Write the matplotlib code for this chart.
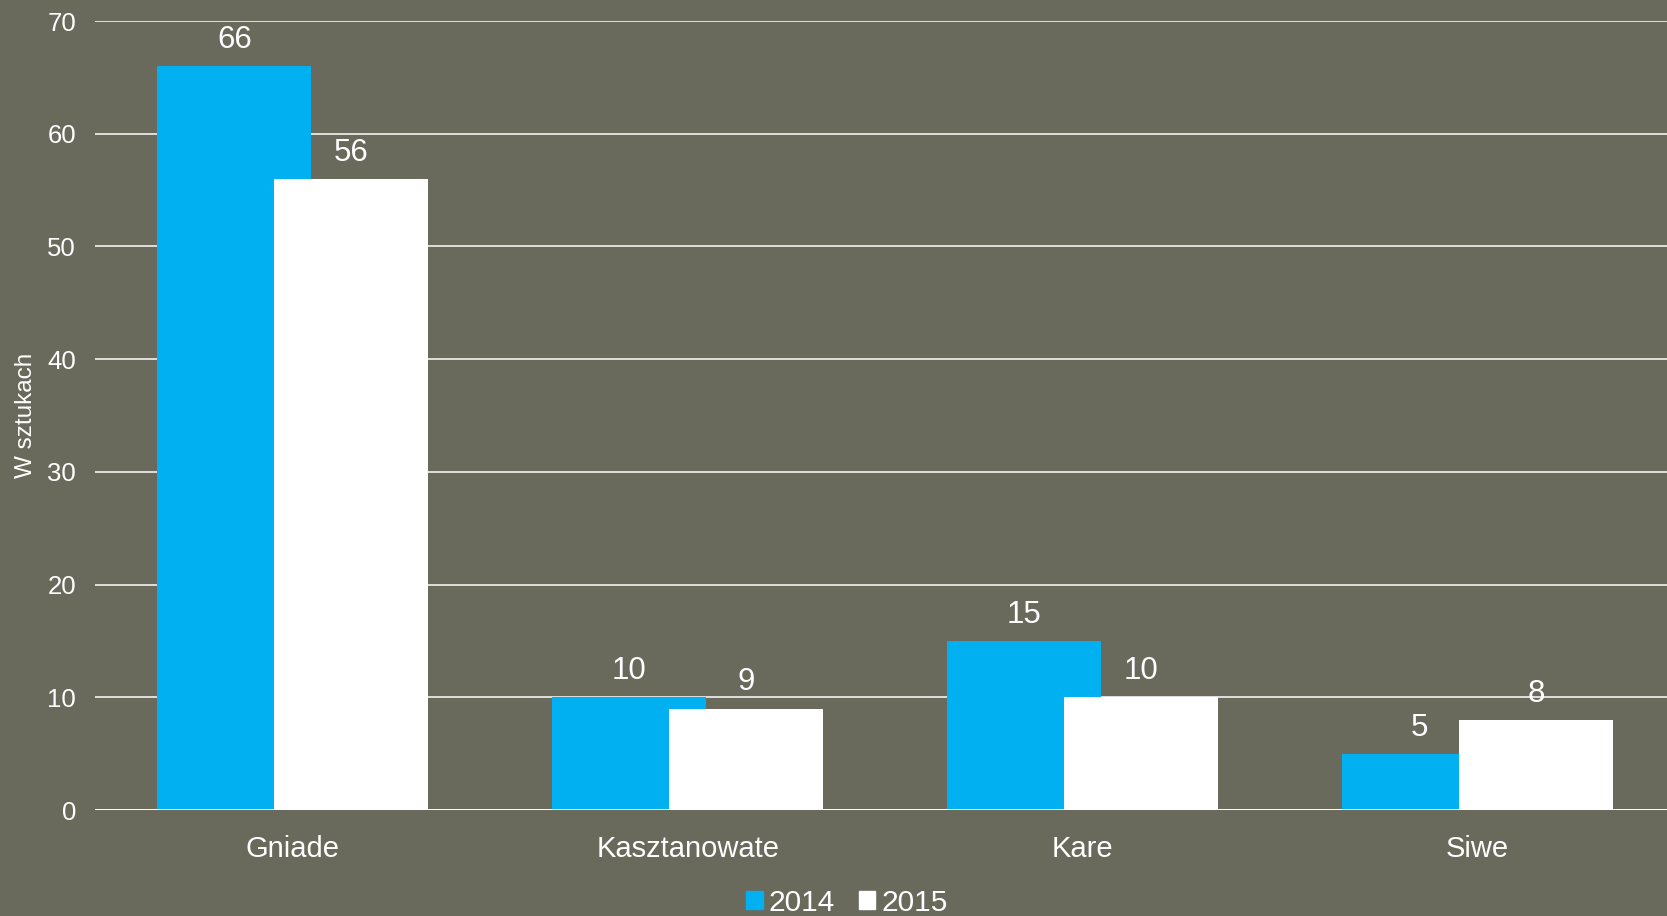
import matplotlib
matplotlib.use('Agg')
import matplotlib.pyplot as plt
from matplotlib.patches import Patch
import numpy as np

# data
categories = ['Gniade', 'Kasztanowate', 'Kare', 'Siwe']
vals_2014 = [66, 10, 15, 5]
vals_2015 = [56, 9, 10, 8]
series_names = ['2014', '2015']

BG = '#696A5B'
BLUE = '#00B0F0'
WHITE = '#FFFFFF'

plt.rcParams['font.family'] = ['Liberation Sans', 'DejaVu Sans']

fig = plt.figure(figsize=(16.67, 9.16), dpi=100, facecolor=BG)
ax = fig.add_axes([0.0572, 0.1157, 0.9476, 0.8613])
ax.set_facecolor(BG)

x = np.arange(len(categories))
w = 0.39
off = 0.148
b1 = ax.bar(x - off, vals_2014, w, color=BLUE, zorder=2)
b2 = ax.bar(x + off, vals_2015, w, color=WHITE, zorder=3)

for bars in (b1, b2):
    for r in bars:
        ax.annotate(f'{int(r.get_height())}',
                    (r.get_x() + r.get_width() / 2, r.get_height()),
                    xytext=(0, 8), textcoords='offset points',
                    ha='center', va='bottom', color='white', fontsize=22.5, zorder=4)

ax.set_xlim(-0.5, len(categories) - 0.5)
ax.set_ylim(0, 70)
ax.set_yticks(range(0, 71, 10))
ax.yaxis.grid(True, color='#E8E8E8', lw=1.3, zorder=0)
ax.set_axisbelow(True)
ax.axhline(0, color='white', lw=2, zorder=5)
for s in ax.spines.values():
    s.set_visible(False)
ax.tick_params(axis='both', length=0, colors='white')
ax.tick_params(axis='y', labelsize=18.5, pad=14)
ax.tick_params(axis='x', labelsize=21, pad=18)
ax.set_xticks(x)
ax.set_xticklabels(categories)
ax.set_ylabel('W sztukach', color='white', fontsize=17.5, labelpad=7)

handles = [Patch(color=BLUE, label=series_names[0]),
           Patch(color=WHITE, label=series_names[1])]
leg = fig.legend(handles=handles, loc='lower center', bbox_to_anchor=(0.508, -0.03),
                 ncol=2, frameon=False, fontsize=21.5, handlelength=0.55, handleheight=0.55,
                 handletextpad=0.2, columnspacing=0.8)
for t in leg.get_texts():
    t.set_color('white')

fig.savefig('out.png', dpi=100, facecolor=BG)
